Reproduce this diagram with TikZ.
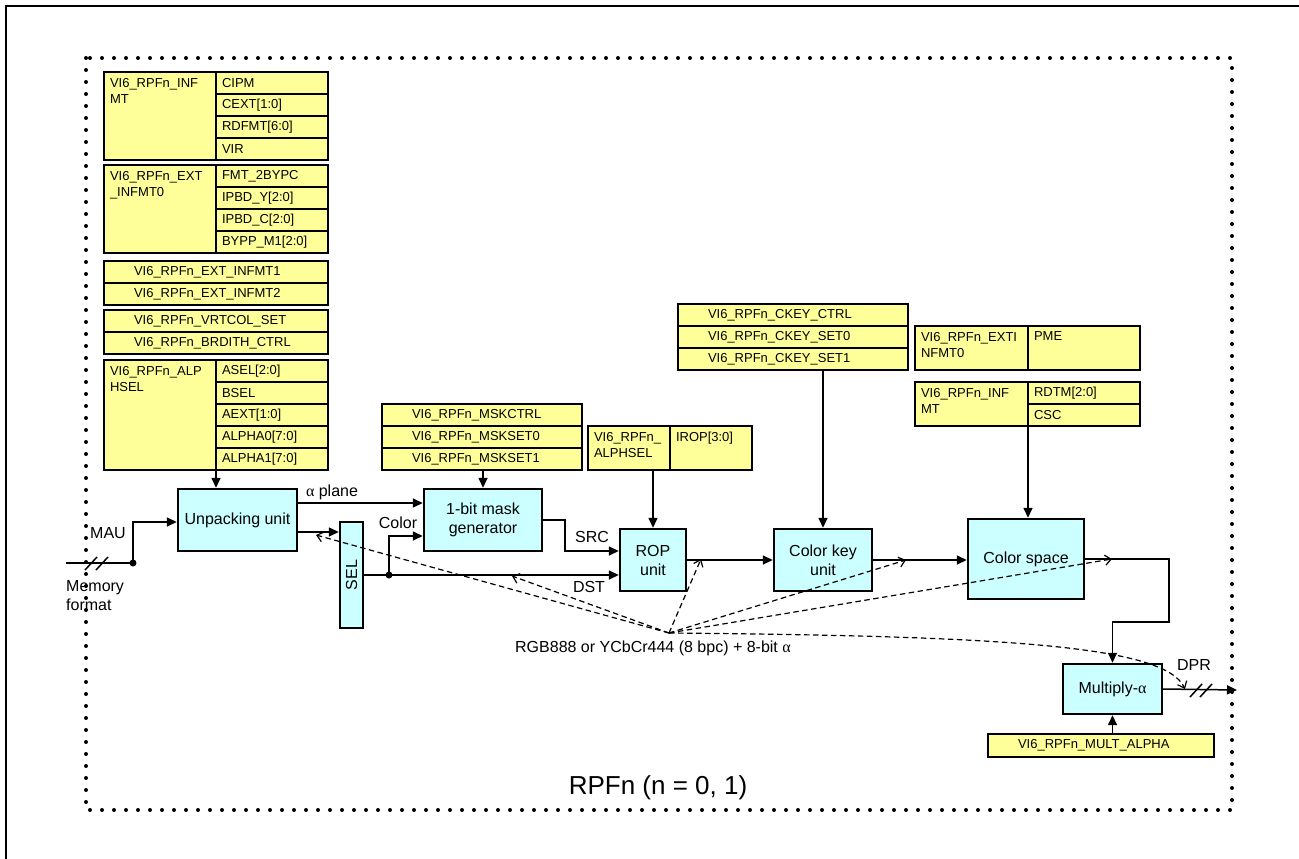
\documentclass[tikz,border=0pt]{standalone}
\usepackage{fontspec}
\setmainfont{Liberation Sans}
\newfontfamily\alphafont{Liberation Serif}
\usepackage{tikz}
\usetikzlibrary{positioning,arrows.meta}
\definecolor{regfill}{HTML}{FFFF99}
\definecolor{unitfill}{HTML}{CCFFFF}
\newcommand{\cellt}[3]{\parbox[c][#1][t]{#2}{\raggedright #3}}
\newcommand{\galpha}{{\alphafont α}}
\tikzset{
  reg/.style={draw, line width=1.8pt, fill=regfill, font=\fontsize{13}{16}\selectfont, outer sep=0pt, anchor=north west},
  regcell/.style={reg, inner sep=6pt},
  regrow/.style={reg, inner xsep=6pt, inner ysep=0pt, text width=#1, minimum height=22pt, align=left},
  regrow/.default=100pt,
  regfull/.style={reg, inner xsep=30pt, inner ysep=0pt, text width=#1, minimum height=22pt, align=left},
  unit/.style={draw, line width=2.4pt, fill=unitfill, align=center, font=\fontsize{16}{19}\selectfont, inner sep=0pt},
  lbl/.style={font=\fontsize{16}{19}\selectfont, inner sep=0pt},
  ln/.style={line width=1.5pt},
  arr/.style={ln, -{Triangle[length=10pt,width=9pt]}},
  dsh/.style={line width=1.2pt, dash pattern=on 5.5pt off 3.5pt, -{Straight Barb[length=6pt,width=10pt]}}
}
\begin{document}
\begin{tikzpicture}[x=1pt,y=-1pt]
\useasboundingbox (0,0) rectangle (1299,859);
\draw[line width=2pt] (6,859) -- (6,6) -- (1299,6);
\draw[line width=4pt, line cap=round, dash pattern=on 0pt off 12pt] (86,58) rectangle (1232,810);

\node[regcell] (infmt) at (104,72) {\cellt{76pt}{100pt}{VI6\_RPFn\_INF\\MT}};
\node[regrow] (cipm) at (infmt.north east) {CIPM};
\node[regrow, below=0pt of cipm] (cext) {CEXT[1:0]};
\node[regrow, below=0pt of cext] (rdfmt) {RDFMT[6:0]};
\node[regrow, below=0pt of rdfmt] (vir) {VIR};

\node[regcell] (extinfmt) at (104,165) {\cellt{76pt}{100pt}{VI6\_RPFn\_EXT\\\_INFMT0}};
\node[regrow] (fmtbypc) at (extinfmt.north east) {FMT\_2BYPC};
\node[regrow, below=0pt of fmtbypc] (ipbdy) {IPBD\_Y[2:0]};
\node[regrow, below=0pt of ipbdy] (ipbdc) {IPBD\_C[2:0]};
\node[regrow, below=0pt of ipbdc] (byppm) {BYPP\_M1[2:0]};

\node[regfull=164pt] (extinfmtA) at (104,261) {VI6\_RPFn\_EXT\_INFMT1};
\node[regfull=164pt, below=0pt of extinfmtA] (extinfmtB) {VI6\_RPFn\_EXT\_INFMT2};
\node[regfull=164pt] (vrtcol) at (104,310) {VI6\_RPFn\_VRTCOL\_SET};
\node[regfull=164pt, below=0pt of vrtcol] (brdith) {VI6\_RPFn\_BRDITH\_CTRL};

\node[regcell] (alphsel) at (104,360) {\cellt{98pt}{100pt}{VI6\_RPFn\_ALP\\HSEL}};
\node[regrow] (asel) at (alphsel.north east) {ASEL[2:0]};
\node[regrow, below=0pt of asel] (bsel) {BSEL};
\node[regrow, below=0pt of bsel] (aext) {AEXT[1:0]};
\node[regrow, below=0pt of aext] (alphaA) {ALPHA0[7:0]};
\node[regrow, below=0pt of alphaA] (alphaB) {ALPHA1[7:0]};

\node[regfull=140pt] (mskctrl) at (382,404) {VI6\_RPFn\_MSKCTRL};
\node[regfull=140pt, below=0pt of mskctrl] (mskset0) {VI6\_RPFn\_MSKSET0};
\node[regfull=140pt, below=0pt of mskset0] (mskset1) {VI6\_RPFn\_MSKSET1};

\node[regcell] (ropsel) at (588,426) {\cellt{32pt}{70pt}{VI6\_RPFn\_\\ALPHSEL}};
\node[regcell] (irop) at (ropsel.north east) {\cellt{32pt}{70pt}{IROP[3:0]}};

\node[regfull=170pt] (ckeyctrl) at (678,304) {VI6\_RPFn\_CKEY\_CTRL};
\node[regfull=170pt, below=0pt of ckeyctrl] (ckeyset0) {VI6\_RPFn\_CKEY\_SET0};
\node[regfull=170pt, below=0pt of ckeyset0] (ckeyset1) {VI6\_RPFn\_CKEY\_SET1};

\node[regcell] (extinfmtR) at (915,326) {\cellt{32pt}{101pt}{VI6\_RPFn\_EXTI\\NFMT0}};
\node[regcell] (pme) at (extinfmtR.north east) {\cellt{32pt}{100pt}{PME}};
\node[regcell] (infmtR) at (915,382) {\cellt{32pt}{101pt}{VI6\_RPFn\_INF\\MT}};
\node[regrow] (rdtm) at (infmtR.north east) {RDTM[2:0]};
\node[regrow, below=0pt of rdtm] (csc) {CSC};

\node[regfull=166pt, minimum height=23pt] (multalpha) at (988,734) {VI6\_RPFn\_MULT\_ALPHA};

\node[unit, minimum width=119pt, minimum height=62pt] (unpack) at (237.5,520) {Unpacking unit};
\node[unit, minimum width=23pt, minimum height=106pt] (sel) at (351.5,575) {\rotatebox{90}{SEL}};
\node[unit, minimum width=118pt, minimum height=62pt] (mask) at (483,520) {1-bit mask\\generator};
\node[unit, minimum width=66pt, minimum height=62pt] (rop) at (653,560) {ROP\\unit};
\node[unit, minimum width=98pt, minimum height=62pt] (ckey) at (823,560) {Color key\\unit};
\node[unit, minimum width=116pt, minimum height=80pt] (cspace) at (1026,559) {Color space};
\node[unit, minimum width=99pt, minimum height=50pt] (mult) at (1112.5,689) {Multiply-\galpha};

\node[lbl] (lblalpha) at (332,492) {\galpha{} plane};
\node[lbl] (lblcolor) at (398,523) {Color};
\node[lbl] (lblsrc) at (592,537) {SRC};
\node[lbl] (lbldst) at (589,587) {DST};
\node[lbl] (lblmau) at (108,533) {MAU};
\node[lbl, align=left, anchor=west] (lblmem) at (66,596) {Memory\\format};
\node[lbl] (lbldpr) at (1194,665) {DPR};
\node[lbl] (lblfmt) at (653,648) {RGB888 or YCbCr444 (8 bpc) + 8-bit \galpha};
\node[font=\fontsize{26}{30}\selectfont] (title) at (658,788) {RPFn (n = 0, 1)};

\coordinate (mauin) at (66,563);
\coordinate (mauj) at (133,563);
\coordinate (colj) at (389,575);
\coordinate (dprout) at (1237,690);
\draw[ln] (mauin) -- (mauj);
\draw[ln] (85,570) -- (97,557) (96,570) -- (108,557);
\fill (mauj) circle (3.5pt);
\draw[arr] (mauj) |- ([yshift=-2pt]unpack.west);
\draw[arr] (alphsel.south east) -- (alphsel.south east |- unpack.north);
\draw[arr] ([yshift=17pt]unpack.east) -- ([yshift=17pt]mask.west);
\draw[arr] ([yshift=-12pt]unpack.east) coordinate (u2) -- (u2 -| sel.west);
\draw[arr] (sel.east) -- ([yshift=-15pt]rop.west);
\fill (colj) circle (3.5pt);
\draw[arr] (colj) |- ([yshift=-16pt]mask.west);
\draw[arr] (mask.north |- mskset1.south) -- (mask.north);
\draw[arr] (mask.east) -- ++(22,0) |- ([yshift=9pt]rop.west);
\draw[arr] (rop.north |- ropsel.south) -- (rop.north);
\draw[arr] (rop.east) -- (ckey.west);
\draw[arr] (ckey.north |- ckeyset1.south) -- (ckey.north);
\draw[arr] (ckey.east) -- (ckey.east -| cspace.west);
\draw[arr] (infmtR.south east) -- (infmtR.south east |- cspace.north);
\draw[arr] (cspace.east) -- ++(84,0) -- ++(0,63) -| (mult.north);
\draw[arr] (mult.south |- multalpha.north) -- (mult.south);
\draw[arr] (mult.east) -- (dprout);
\draw[ln] (1190,697) -- (1202,684) (1200,697) -- (1212,684);

\coordinate (fmt) at (669,633);
\coordinate (tu) at (316,535);
\coordinate (td) at (512,576);
\coordinate (tr) at (701,559);
\coordinate (tk) at (906,560);
\coordinate (tc) at (1112,559);
\coordinate (tp) at (1185,689);
\draw[dsh] (fmt) -- (tu);
\draw[dsh] (fmt) -- (td);
\draw[dsh] (fmt) -- (tr);
\draw[dsh] (fmt) -- (tk);
\draw[dsh] (fmt) -- (tc);
\draw[dsh] (fmt) .. controls (1000,636) and (1165,645) .. (tp);
\end{tikzpicture}
\end{document}
